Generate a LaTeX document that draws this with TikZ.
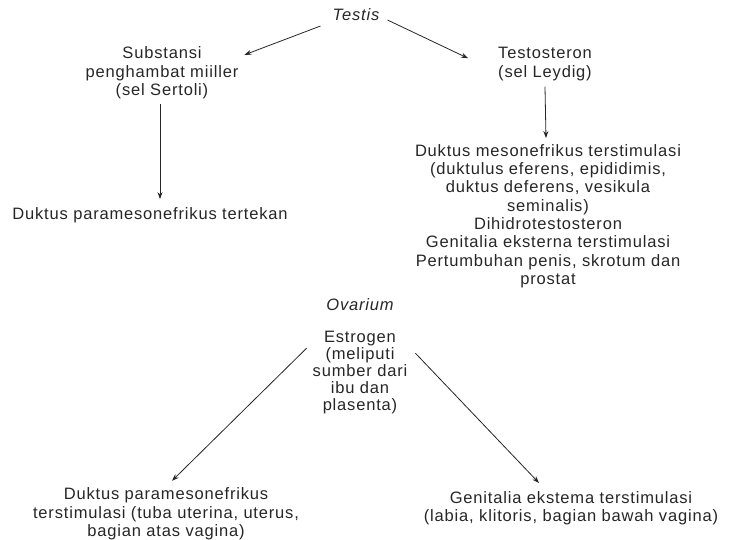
\documentclass[tikz,border=0pt]{standalone}
\usepackage{fontspec}
\setmainfont{Liberation Sans}[LetterSpace=5.0]
\usepackage{tikz}
\usetikzlibrary{positioning, calc, arrows.meta}
\definecolor{ink}{HTML}{262626}

\begin{document}
\begin{tikzpicture}[
            x=1pt, y=-1pt,
            every node/.style={inner sep=0pt, text=ink},
            label/.style={
                align=center, font=\fontsize{16.5}{18.3}\selectfont
            },
            organ/.style={label, font=\fontsize{16.5}{18.3}\selectfont\itshape},
            arr/.style={draw=ink, line width=0.8pt, -{Stealth[length=7pt, width=5pt]}}
        ]
            \useasboundingbox (0,0) rectangle (732,539);
            % testis side
            \node[organ] (testis) at (356,15) {Testis};
            \node[label] (substansi) at (162,73) {Substansi\\penghambat miiller\\(sel Sertoli)};
            \node[label] (tertekan) at (150,215) {Duktus paramesonefrikus tertekan};
            \node[label] (testosteron) at (545,64) {Testosteron\\(sel Leydig)};
            \node[label] (mesonefrikus) at (548,216) {
                Duktus mesonefrikus terstimulasi\\
                (duktulus eferens, epididimis,\\
                duktus deferens, vesikula\\
                seminalis)\\
                Dihidrotestosteron\\
                Genitalia eksterna terstimulasi\\
                Pertumbuhan penis, skrotum dan\\
                prostat
            };
            % ovarium side
            \node[organ] (ovarium) at (360,305) {Ovarium};
            \node[label, font=\fontsize{16.5}{17}\selectfont, below=20pt of ovarium.south] (estrogen) {Estrogen\\(meliputi\\sumber dari\\ibu dan\\plasenta)};
            \node[label] (paramesonefrikus) at (166,514) {Duktus paramesonefrikus\\terstimulasi (tuba uterina, uterus,\\bagian atas vagina)};
            \node[label] (genitalia) at (571,508) {Genitalia ekstema terstimulasi\\(labia, klitoris, bagian bawah vagina)};

            \draw[arr] ([xshift=-12pt, yshift=-11pt]testis.west) -- ([xshift=6pt, yshift=-8pt]substansi.north east);
            \draw[arr] ([xshift=8pt, yshift=-5pt]testis.east) -- ([xshift=-30pt, yshift=-11pt]testosteron.north west);
            \draw[arr] ([xshift=-2pt, yshift=-5pt]substansi.south) -- ([xshift=10pt, yshift=8pt]tertekan.north);
            \draw[arr] ([yshift=-6pt]testosteron.south) -- ([xshift=-2pt, yshift=6pt]mesonefrikus.north);
            \draw[arr] ([xshift=-6pt, yshift=-17pt]estrogen.north west) -- ([xshift=6pt, yshift=7pt]paramesonefrikus.north);
            \draw[arr] ([xshift=8pt, yshift=-22pt]estrogen.north east) -- ([xshift=-32pt, yshift=8pt]genitalia.north);
        \end{tikzpicture}
\end{document}
